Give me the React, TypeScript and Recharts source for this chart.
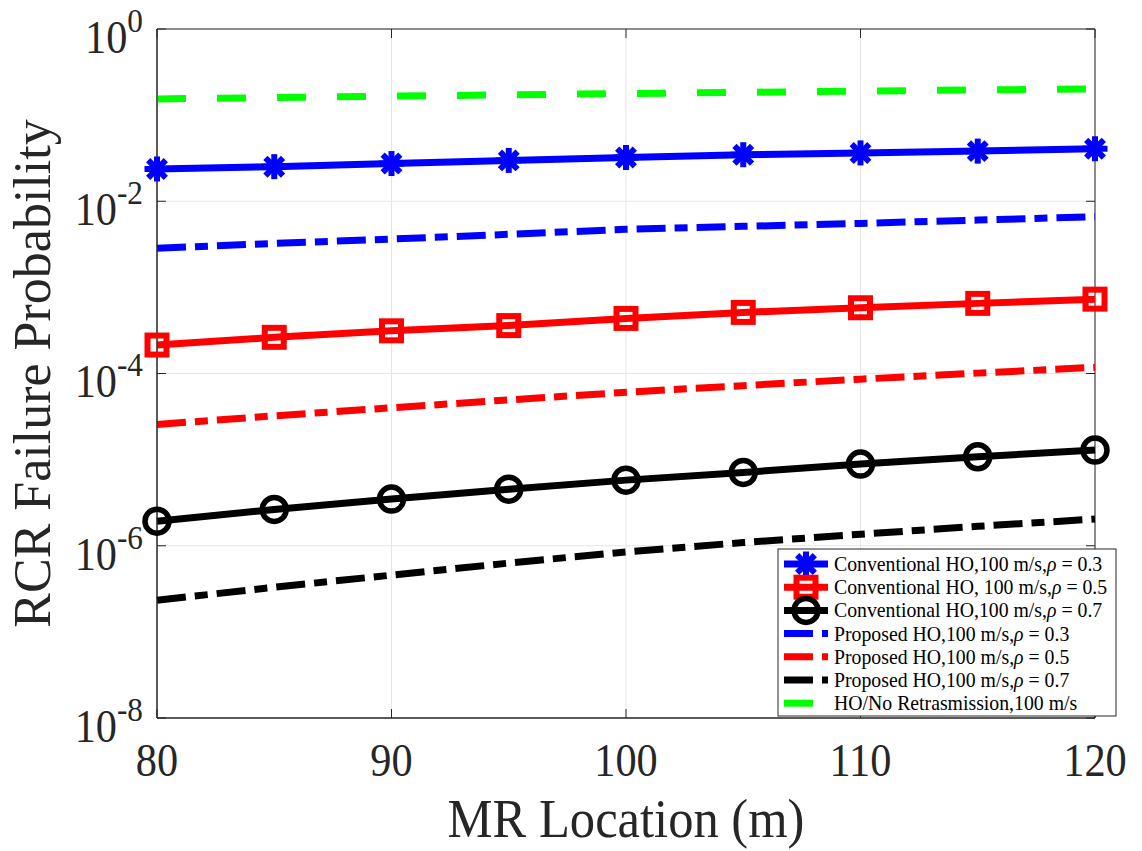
import React from 'react';
import {
  LineChart,
  Line,
  XAxis,
  YAxis,
  CartesianGrid,
  ReferenceArea,
  Label,
} from 'recharts';

// MR location (m)
const xs = [80, 85, 90, 95, 100, 105, 110, 115, 120];

// RCR failure probability
const convRho03 = [0.0237, 0.0252, 0.0274, 0.0298, 0.0322, 0.0347, 0.0364, 0.0382, 0.0407];
const convRho05 = [2.14e-4, 2.63e-4, 3.13e-4, 3.6e-4, 4.36e-4, 5.12e-4, 5.8e-4, 6.52e-4, 7.3e-4];
const convRho07 = [1.93e-6, 2.64e-6, 3.48e-6, 4.54e-6, 5.78e-6, 7.1e-6, 8.87e-6, 1.08e-5, 1.29e-5];
const propRho03 = [2.84e-3, 3.24e-3, 3.64e-3, 4.13e-3, 4.72e-3, 5.11e-3, 5.53e-3, 6.05e-3, 6.61e-3];
const propRho05 = [2.56e-5, 3.22e-5, 4.0e-5, 4.94e-5, 6.05e-5, 7.23e-5, 8.6e-5, 1.01e-4, 1.18e-4];
const propRho07 = [2.33e-7, 3.3e-7, 4.56e-7, 6.29e-7, 8.49e-7, 1.09e-6, 1.36e-6, 1.68e-6, 2.04e-6];
const noRetx = [0.154, 0.16, 0.166, 0.172, 0.178, 0.184, 0.19, 0.196, 0.201];

const xTicks = [80, 90, 100, 110, 120];
const yTicks = [1e-8, 1e-6, 1e-4, 1e-2, 1];

const data = xs.map((x, i) => ({
  x,
  conv03: convRho03[i],
  conv05: convRho05[i],
  conv07: convRho07[i],
  prop03: propRho03[i],
  prop05: propRho05[i],
  prop07: propRho07[i],
  noretx: noRetx[i],
}));

const W = 1142;
const H = 851;
const PLOT_LEFT = 157;
const PLOT_RIGHT = 1095;
const PLOT_TOP = 29;
const PLOT_BOTTOM = 718;
const AXIS = '#262626';
const FONT = '"Liberation Serif", "Times New Roman", serif';
const SX = 0.92; // the original figure is a bit squeezed horizontally

const squeeze = (x: number) => `translate(${x} 0) scale(${SX} 1) translate(${-x} 0)`;

const DASH_DOT = '29 9 13 9';
const DASH = '29 31';

type Marker = 'asterisk' | 'square' | 'circle' | null;

function MarkerShape({ kind, cx, cy, color }: { kind: Marker; cx: number; cy: number; color: string }) {
  if (kind === 'asterisk') {
    const r = 12.5;
    const d = r * Math.SQRT1_2;
    return (
      <g stroke={color} strokeWidth={6}>
        <line x1={cx - r} y1={cy} x2={cx + r} y2={cy} />
        <line x1={cx} y1={cy - r} x2={cx} y2={cy + r} />
        <line x1={cx - d} y1={cy - d} x2={cx + d} y2={cy + d} />
        <line x1={cx - d} y1={cy + d} x2={cx + d} y2={cy - d} />
        <circle cx={cx} cy={cy} r={6} fill={color} stroke="none" />
      </g>
    );
  }
  if (kind === 'square') {
    return <rect x={cx - 9.5} y={cy - 9.5} width={19} height={19} fill="none" stroke={color} strokeWidth={6} />;
  }
  if (kind === 'circle') {
    return <circle cx={cx} cy={cy} r={12} fill="none" stroke={color} strokeWidth={5.5} />;
  }
  return null;
}

const series = [
  { key: 'conv03', color: '#0000ff', dash: undefined, marker: 'asterisk' as Marker, pre: 'Conventional HO,100 m/s,', rho: ' = 0.3' },
  { key: 'conv05', color: '#ff0000', dash: undefined, marker: 'square' as Marker, pre: 'Conventional HO, 100 m/s,', rho: ' = 0.5' },
  { key: 'conv07', color: '#000000', dash: undefined, marker: 'circle' as Marker, pre: 'Conventional HO,100 m/s,', rho: ' = 0.7' },
  { key: 'prop03', color: '#0000ff', dash: DASH_DOT, marker: null, pre: 'Proposed HO,100 m/s,', rho: ' = 0.3' },
  { key: 'prop05', color: '#ff0000', dash: DASH_DOT, marker: null, pre: 'Proposed HO,100 m/s,', rho: ' = 0.5' },
  { key: 'prop07', color: '#000000', dash: DASH_DOT, marker: null, pre: 'Proposed HO,100 m/s,', rho: ' = 0.7' },
  { key: 'noretx', color: '#00ff00', dash: DASH, marker: null, pre: 'HO/No Retrasmission,100 m/s', rho: null },
];

function XTick(props: any) {
  const { x, payload } = props;
  return (
    <g>
      <line x1={x} x2={x} y1={PLOT_BOTTOM} y2={PLOT_BOTTOM - 9} stroke={AXIS} />
      <line x1={x} x2={x} y1={PLOT_TOP} y2={PLOT_TOP + 9} stroke={AXIS} />
      <text
        x={x}
        y={PLOT_BOTTOM + 58}
        textAnchor="middle"
        fontSize={46}
        fontFamily={FONT}
        fill={AXIS}
        transform={squeeze(x)}
      >
        {payload.value}
      </text>
    </g>
  );
}

function YTick(props: any) {
  const { y, payload } = props;
  const exp = Math.round(Math.log10(payload.value));
  const tx = PLOT_LEFT - 14;
  return (
    <g>
      <line x1={PLOT_LEFT} x2={PLOT_LEFT + 9} y1={y} y2={y} stroke={AXIS} />
      <line x1={PLOT_RIGHT} x2={PLOT_RIGHT - 9} y1={y} y2={y} stroke={AXIS} />
      <text x={tx} y={y + 24} textAnchor="end" fontSize={46} fontFamily={FONT} fill={AXIS} transform={squeeze(tx)}>
        10
        <tspan dy={-21} fontSize={34}>
          {exp}
        </tspan>
      </text>
    </g>
  );
}

function ChartLegend() {
  const left = 778;
  const top = 549;
  const w = 338;
  const h = 167;
  const rowH = 23.2;
  return (
    <svg
      width={w + 2}
      height={h + 2}
      style={{ position: 'absolute', left: left - 1, top: top - 1, overflow: 'visible' }}
    >
      <rect x={1} y={1} width={w} height={h} fill="#fff" stroke={AXIS} strokeWidth={1} />
      {series.map((s, i) => {
        const cy = 1 + 15 + i * rowH;
        const lx = 1 + 6;
        const tx = 1 + 56;
        return (
          <g key={s.key}>
            <line x1={lx} x2={lx + 44} y1={cy} y2={cy} stroke={s.color} strokeWidth={7} strokeDasharray={s.dash} />
            <MarkerShape kind={s.marker} cx={lx + 22} cy={cy} color={s.color} />
            <text
              x={tx}
              y={cy + 7}
              fontSize={21.5}
              fontFamily={FONT}
              fill="#000"
              transform={squeeze(tx)}
            >
              {s.pre}
              {s.rho && <tspan fontStyle="italic">ρ</tspan>}
              {s.rho}
            </text>
          </g>
        );
      })}
    </svg>
  );
}

export default function App() {
  return (
    <div style={{ position: 'absolute', left: 0, top: 0, width: W, height: H, background: '#fff' }}>
      <LineChart
        width={W}
        height={H}
        data={data}
        margin={{ top: PLOT_TOP, right: W - PLOT_RIGHT, left: 0, bottom: 0 }}
      >
        <CartesianGrid stroke="#e6e6e6" strokeWidth={1} />
        <XAxis
          dataKey="x"
          type="number"
          domain={[80, 120]}
          ticks={xTicks}
          interval={0}
          tickLine={false}
          tickSize={0}
          tickMargin={0}
          axisLine={{ stroke: AXIS }}
          tick={<XTick />}
          height={H - PLOT_BOTTOM}
        >
          <Label
            content={() => (
              <text
                x={(PLOT_LEFT + PLOT_RIGHT) / 2}
                y={837}
                textAnchor="middle"
                fontSize={55}
                fontFamily={FONT}
                fill={AXIS}
                transform={squeeze((PLOT_LEFT + PLOT_RIGHT) / 2)}
              >
                MR Location (m)
              </text>
            )}
          />
        </XAxis>
        <YAxis
          type="number"
          scale="log"
          domain={[1e-8, 1]}
          allowDataOverflow
          ticks={yTicks}
          interval={0}
          tickLine={false}
          tickSize={0}
          tickMargin={0}
          axisLine={{ stroke: AXIS }}
          tick={<YTick />}
          width={PLOT_LEFT}
        >
          <Label
            content={() => {
              const cx = 50;
              const cy = (PLOT_TOP + PLOT_BOTTOM) / 2;
              return (
                <text
                  x={cx}
                  y={cy}
                  textAnchor="middle"
                  fontSize={52}
                  fontFamily={FONT}
                  fill={AXIS}
                  transform={`rotate(-90 ${cx} ${cy})`}
                >
                  RCR Failure Probability
                </text>
              );
            }}
          />
        </YAxis>
        <ReferenceArea x1={80} x2={120} y1={1e-8} y2={1} fill="none" fillOpacity={0} stroke={AXIS} strokeWidth={1} />
        {series.map((s) => (
          <Line
            key={s.key}
            dataKey={s.key}
            type="linear"
            stroke={s.color}
            strokeWidth={7}
            strokeDasharray={s.dash}
            isAnimationActive={false}
            dot={
              s.marker
                ? (p: any) => <MarkerShape key={`${s.key}-${p.index}`} kind={s.marker} cx={p.cx} cy={p.cy} color={s.color} />
                : false
            }
            activeDot={false}
          />
        ))}
      </LineChart>
      <ChartLegend />
    </div>
  );
}
